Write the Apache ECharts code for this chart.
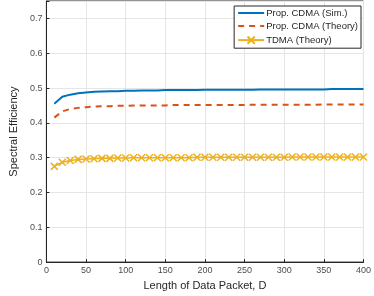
<!DOCTYPE html>
<html><head><meta charset="utf-8">
<script src="https://cdn.jsdelivr.net/npm/echarts@6/dist/echarts.min.js"></script>
<style>html,body{margin:0;padding:0;background:#fff}#c{width:374px;height:296px}</style>
</head><body><div id="c"></div>
<script>
const packetLength = [10,20,30,40,50,60,70,80,90,100,110,120,130,140,150,160,170,180,190,200,210,220,230,240,250,260,270,280,290,300,310,320,330,340,350,360,370,380,390,400];
const cdmaSim = [0.455,0.475,0.481,0.485,0.487,0.489,0.490,0.491,0.491,0.492,0.492,0.493,0.493,0.493,0.494,0.494,0.494,0.494,0.494,0.495,0.495,0.495,0.495,0.495,0.495,0.495,0.496,0.496,0.496,0.496,0.496,0.496,0.496,0.496,0.496,0.497,0.497,0.497,0.497,0.497];
const cdmaTheory = [0.415,0.433,0.440,0.443,0.445,0.447,0.448,0.448,0.449,0.449,0.450,0.450,0.450,0.450,0.450,0.451,0.451,0.451,0.451,0.451,0.451,0.451,0.451,0.451,0.451,0.452,0.452,0.452,0.452,0.452,0.452,0.452,0.452,0.452,0.453,0.453,0.453,0.453,0.453,0.453];
const tdmaTheory = [0.275,0.287,0.292,0.295,0.296,0.297,0.298,0.298,0.299,0.299,0.300,0.300,0.300,0.300,0.300,0.300,0.300,0.300,0.301,0.301,0.301,0.301,0.301,0.301,0.301,0.301,0.301,0.301,0.301,0.301,0.302,0.302,0.302,0.302,0.302,0.302,0.302,0.302,0.302,0.302];
const seriesNames = ['Prop. CDMA (Sim.)','Prop. CDMA (Theory)','TDMA (Theory)'];

const pair = ys => packetLength.map((x,i)=>[x,ys[i]]);
const chart = echarts.init(document.getElementById('c'));
const axisText = {color:'#4d4d4d', fontSize:9, fontFamily:'Liberation Sans'};
chart.setOption({
  animation:false,
  grid:{left:27,right:7,top:1,bottom:28,show:true,borderColor:'#262626',borderWidth:1},
  xAxis:{type:'value',min:0,max:400,interval:50,
    name:'Length of Data Packet, D',nameLocation:'middle',nameGap:16,
    nameTextStyle:{color:'#262626',fontSize:11,fontFamily:'Liberation Sans'},
    axisLine:{lineStyle:{color:'#262626'}},axisTick:{inside:true,length:3,lineStyle:{color:'#262626'}},
    axisLabel:Object.assign({margin:4},axisText),
    splitLine:{show:true,lineStyle:{color:'#e5e5e5'}}},
  yAxis:{type:'value',min:0,max:0.75,interval:0.1,
    name:'Spectral Efficiency',nameLocation:'middle',nameGap:19,
    nameTextStyle:{color:'#262626',fontSize:11,fontFamily:'Liberation Sans'},
    axisLine:{lineStyle:{color:'#262626'}},axisTick:{inside:true,length:3,lineStyle:{color:'#262626'}},
    axisLabel:Object.assign({margin:4,formatter:v=>v>0.72?'':String(Math.round(v*10)/10)},axisText),
    splitLine:{show:true,lineStyle:{color:'#e5e5e5'}}},
  legend:{right:13,top:6,orient:'vertical',itemGap:3,itemWidth:26,itemHeight:9,
    padding:[2,3,2,3],borderColor:'#262626',borderWidth:1,backgroundColor:'#fff',
    textStyle:{fontSize:9.5,color:'#262626',fontFamily:'Liberation Sans',padding:[0,0,0,-3]},
    data:[{name:seriesNames[0],itemStyle:{opacity:0}},{name:seriesNames[1],itemStyle:{opacity:0}},{name:seriesNames[2]}]},
  series:[
    {name:seriesNames[0],type:'line',data:pair(cdmaSim),symbol:'none',
      lineStyle:{color:'#0072BD',width:2},itemStyle:{color:'#0072BD'}},
    {name:seriesNames[1],type:'line',data:pair(cdmaTheory),symbol:'none',
      lineStyle:{color:'#D95319',width:2,type:[6,5]},itemStyle:{color:'#D95319'}},
    {name:seriesNames[2],type:'line',data:pair(tdmaTheory),
      symbol:'path://M0,0L10,10M10,0L0,10',symbolSize:7,showSymbol:true,
      lineStyle:{color:'#EDB120',width:1.5},
      itemStyle:{color:'none',borderColor:'#EDB120',borderWidth:1.5}}
  ]
});
</script></body></html>
